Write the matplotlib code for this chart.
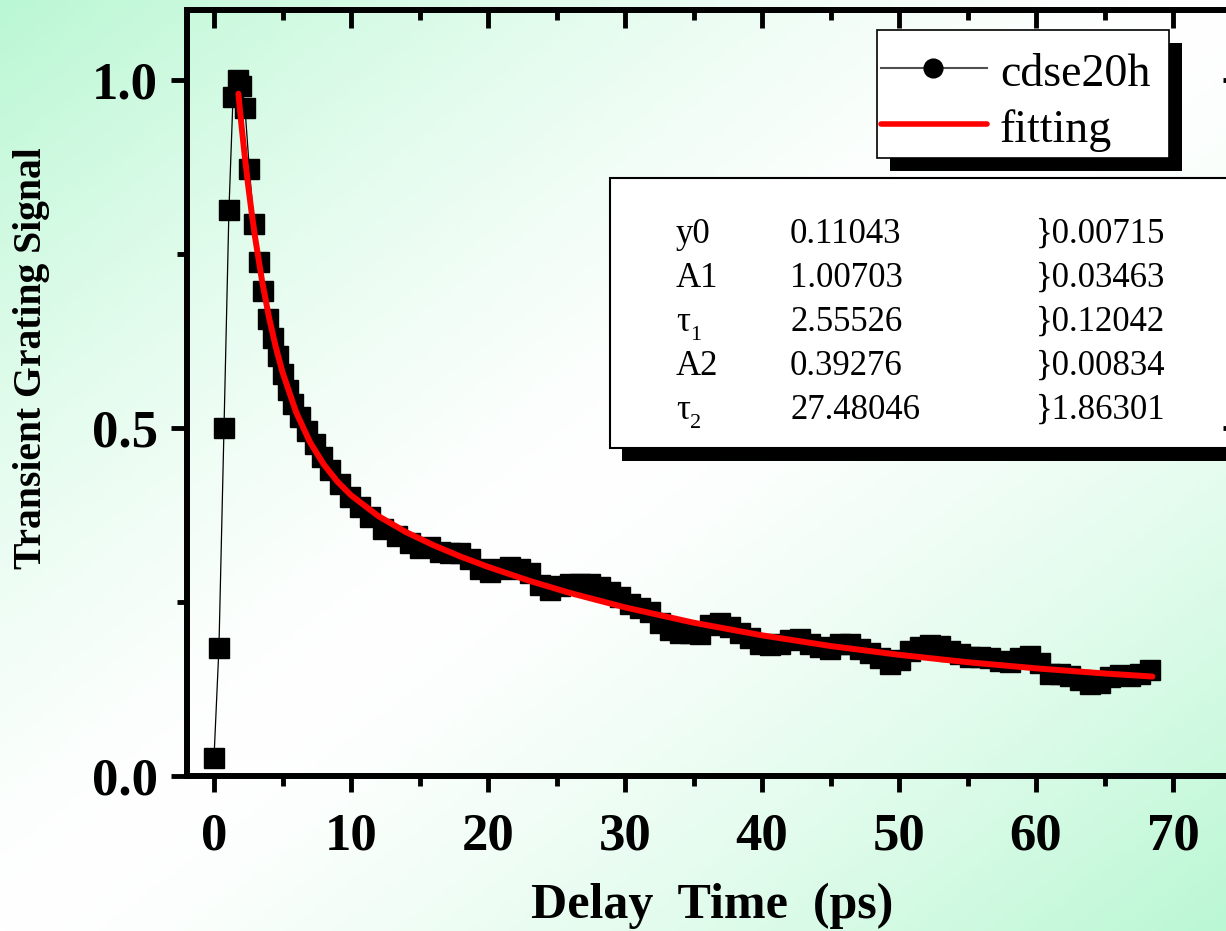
import numpy as np
import matplotlib.pyplot as plt
from matplotlib.patches import Rectangle
from matplotlib.ticker import MultipleLocator, FormatStrFormatter

plt.rcParams['font.family'] = ['Liberation Serif', 'DejaVu Serif']

# measured transient grating signal (cdse20h)
delay = [0.00, 0.36, 0.73, 1.09, 1.39, 1.75, 2.00, 2.26, 2.58, 2.92,
         3.26, 3.60, 3.97, 4.33, 4.70, 5.06, 5.43, 5.79, 6.28, 6.77,
         7.37, 7.86, 8.47, 9.20, 9.93, 10.66, 11.39, 12.36, 13.33, 14.31,
         15.04, 15.77, 16.50, 17.23, 17.96, 18.69, 19.42, 20.15, 20.88, 21.61,
         22.34, 23.07, 23.80, 24.53, 25.26, 25.99, 26.72, 27.45, 28.18, 28.91,
         29.64, 30.36, 31.09, 31.82, 32.55, 33.28, 34.01, 34.74, 35.47, 36.20,
         36.93, 37.66, 38.39, 39.12, 39.85, 40.58, 41.31, 42.04, 42.77, 43.50,
         44.23, 44.96, 45.69, 46.42, 47.15, 47.88, 48.61, 49.34, 50.07, 50.80,
         51.53, 52.26, 52.99, 53.72, 54.45, 55.18, 55.91, 56.64, 57.37, 58.10,
         58.83, 59.56, 60.29, 61.02, 61.75, 62.48, 63.21, 63.94, 64.67, 65.40,
         66.13, 66.86, 67.59, 68.32]
signal = [0.026, 0.184, 0.500, 0.813, 0.976, 1.000, 0.992, 0.960, 0.872, 0.793,
          0.738, 0.697, 0.657, 0.630, 0.604, 0.578, 0.554, 0.535, 0.516, 0.496,
          0.477, 0.458, 0.439, 0.420, 0.401, 0.386, 0.372, 0.355, 0.345, 0.335,
          0.328, 0.329, 0.322, 0.321, 0.321, 0.312, 0.298, 0.293, 0.298, 0.300,
          0.298, 0.292, 0.275, 0.267, 0.273, 0.276, 0.276, 0.276, 0.271, 0.264,
          0.257, 0.247, 0.241, 0.235, 0.220, 0.210, 0.206, 0.205, 0.204, 0.217,
          0.220, 0.214, 0.205, 0.198, 0.189, 0.188, 0.189, 0.195, 0.197, 0.189,
          0.186, 0.182, 0.189, 0.189, 0.183, 0.177, 0.169, 0.161, 0.166, 0.180,
          0.185, 0.188, 0.187, 0.180, 0.175, 0.171, 0.171, 0.170, 0.165, 0.164,
          0.170, 0.173, 0.162, 0.147, 0.147, 0.144, 0.138, 0.132, 0.134, 0.142,
          0.145, 0.144, 0.147, 0.152]

# biexponential fit curve
fit_t = [1.78, 2.0, 2.25, 2.5, 2.75, 3.0, 3.5, 4.0, 4.5, 5.0, 6.0, 7.0, 8.0,
         9.0, 10, 12, 14, 16, 18, 20, 23, 26, 30, 35, 40, 45, 50, 55, 60, 65, 68.5]
fit_y = [0.9803, 0.9360, 0.8898, 0.8475, 0.8091, 0.7738, 0.7122, 0.6604, 0.6170,
         0.5801, 0.5224, 0.4799, 0.4480, 0.4232, 0.4034, 0.3734, 0.3506, 0.3318,
         0.3153, 0.3005, 0.2806, 0.2629, 0.2423, 0.2203, 0.2021, 0.1868, 0.1741,
         0.1635, 0.1547, 0.1473, 0.1429]

par_names = ['y0', 'A1', 'τ', 'A2', 'τ']
par_subs = ['', '', '1', '', '2']
par_vals = ['0.11043', '1.00703', '2.55526', '0.39276', '27.48046']
par_errs = ['}0.00715', '}0.03463', '}0.12042', '}0.00834', '}1.86301']

W, H = 1226, 931
fig = plt.figure(figsize=(W / 100, H / 100), dpi=100)

# page background: green corners fading to white along the diagonal
bg = fig.add_axes([0, 0, 1, 1], zorder=-10)
gx, gy = np.meshgrid(np.linspace(0, 1, 300), np.linspace(0, 1, 230))
wgt = np.abs(gx + gy - 1) ** 1.4
green = np.array([0.73, 0.97, 0.83])
bg.imshow(1 - wgt[..., None] * (1 - green), extent=[0, 1, 0, 1], aspect='auto', origin='upper')
bg.axis('off')

# overlay in pixel coords for the boxes
ov = fig.add_axes([0, 0, 1, 1], zorder=0)
ov.set_xlim(0, W)
ov.set_ylim(H, 0)
ov.axis('off')
ov.patch.set_alpha(0)

ax = fig.add_axes([186.6 / W, 1 - 776 / H, (1241.5 - 186.6) / W, (776 - 10.4) / H], zorder=1)
ax.set_facecolor('none')
ax.plot(delay, signal, color='black', lw=0.9, marker='s', ms=15, mfc='black', mec='black')
ax.plot(fit_t, fit_y, color='red', lw=4.3, solid_capstyle='round', zorder=3)
ax.set_xlim(-2, 75)
ax.set_ylim(0, 1.1)

for s in ax.spines.values():
    s.set_linewidth(4.3)
ax.xaxis.set_major_locator(MultipleLocator(10))
ax.xaxis.set_minor_locator(MultipleLocator(5))
ax.yaxis.set_major_locator(MultipleLocator(0.5))
ax.yaxis.set_minor_locator(MultipleLocator(0.25))
ax.yaxis.set_major_formatter(FormatStrFormatter('%.1f'))
ax.tick_params(which='major', direction='out', length=11.5, width=3.5, labelsize=38)
ax.tick_params(which='minor', direction='out', length=7, width=3.5)
ax.tick_params(axis='x', pad=15)
ax.tick_params(axis='y', pad=9)
for lab in ax.get_xticklabels() + ax.get_yticklabels():
    lab.set_fontweight('bold')

top = ax.secondary_xaxis('top')
top.xaxis.set_major_locator(MultipleLocator(10))
top.xaxis.set_minor_locator(MultipleLocator(5))
top.tick_params(which='both', direction='in', labeltop=False, width=3.5)
top.tick_params(which='major', length=13)
top.tick_params(which='minor', length=7)
top.spines['top'].set_linewidth(4.3)

right = ax.secondary_yaxis('right')
right.yaxis.set_major_locator(MultipleLocator(0.5))
right.yaxis.set_minor_locator(MultipleLocator(0.25))
right.tick_params(which='both', direction='in', labelright=False, width=3.5)
right.tick_params(which='major', length=14)
right.tick_params(which='minor', length=7)
right.spines['right'].set_linewidth(4.3)

# axis labels
ov.text(32, 358, 'Transient Grating Signal', rotation=90, ha='center', va='center',
        fontsize=28.5, fontweight='bold')
ov.text(712, 918, 'Delay  Time  (ps)', ha='center', va='baseline', fontsize=36, fontweight='bold')

# legend box with shadow
ov.add_patch(Rectangle((890, 43), 292, 128, facecolor='black', edgecolor='none'))
ov.add_patch(Rectangle((877, 30), 292, 128, facecolor='white', edgecolor='black', lw=1.2))
ov.plot([881, 987], [68, 68], color='#505050', lw=1.5)
ov.plot([933], [68], marker='o', ms=13.5, color='black')
ov.text(1000, 86, 'cdse20h', fontsize=33, va='baseline')
ov.plot([881, 987], [124, 124], color='red', lw=4, solid_capstyle='round')
ov.text(1000, 142, 'fitting', fontsize=33, va='baseline')

# fit parameter table with shadow
ov.add_patch(Rectangle((622, 191), 650, 270, facecolor='black', edgecolor='none'))
ov.add_patch(Rectangle((610, 178), 650, 270, facecolor='white', edgecolor='black', lw=1.5))
for i in range(len(par_names)):
    yb = 243 + i * 44
    ov.text(676, yb, par_names[i], fontsize=25, va='baseline')
    if par_subs[i]:
        ov.text(690, yb + 9, par_subs[i], fontsize=16, va='baseline')
    ov.text(790, yb, par_vals[i], fontsize=25, va='baseline')
    ov.text(1036, yb, par_errs[i], fontsize=25, va='baseline')

fig.savefig('out.png', dpi=100)
